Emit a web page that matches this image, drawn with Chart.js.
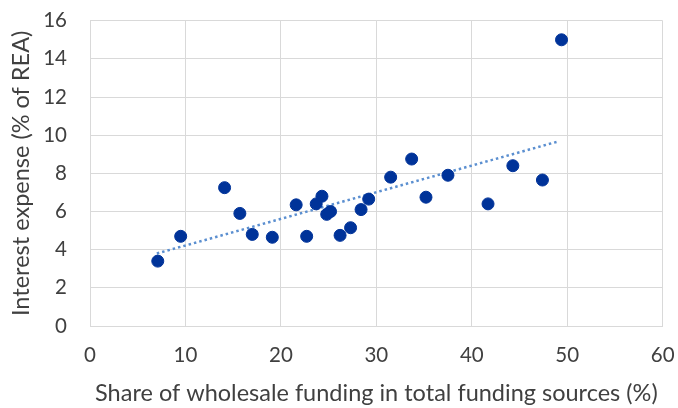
<!DOCTYPE html>
<html>
<head>
<meta charset="utf-8">
<script src="https://cdn.jsdelivr.net/npm/chart.js@4/dist/chart.umd.min.js"></script>
<style>
  html, body { margin: 0; padding: 0; background: #fff; }
  #wrap { width: 678px; height: 408px; }
</style>
</head>
<body>
<div id="wrap"><canvas id="c" width="678" height="408"></canvas></div>
<script>
// wholesale funding share (%) and interest expense (% of REA)
var fundingShare = [7.1, 9.5, 14.1, 15.7, 17.0, 19.1, 21.6, 22.7, 23.7, 24.3, 24.8, 25.2,
                    26.2, 27.3, 28.4, 29.2, 31.5, 33.7, 35.2, 37.5, 41.7, 44.3, 47.4, 49.4];
var interestExp  = [3.4, 4.7, 7.25, 5.9, 4.8, 4.65, 6.35, 4.7, 6.4, 6.8, 5.85, 6.0,
                    4.75, 5.15, 6.1, 6.65, 7.8, 8.75, 6.75, 7.9, 6.4, 8.4, 7.65, 15.0];
// linear trendline end points as drawn
var trendX = [7.0, 48.9];
var trendY = [3.8, 9.65];

var xTicks = [0, 10, 20, 30, 40, 50, 60];
var yTicks = [0, 2, 4, 6, 8, 10, 12, 14, 16];

var font = "Lato";
var textColor = "#404040";
var gridColor = "#d9d9d9";

var pts = fundingShare.map(function(x, i) { return {x: x, y: interestExp[i]}; });
var trend = trendX.map(function(x, i) { return {x: x, y: trendY[i]}; });

new Chart(document.getElementById("c"), {
	type: "scatter",
	data: {
		datasets: [
			{
				data: pts,
				backgroundColor: "#003399",
				borderColor: "#003399",
				pointRadius: 6,
				pointHoverRadius: 6,
				order: 1
			},
			{
				type: "line",
				data: trend,
				borderColor: "#5b8fd0",
				borderWidth: 2.5,
				borderDash: [2.5, 3],
				pointRadius: 0,
				fill: false,
				order: 2
			}
		]
	},
	options: {
		responsive: false,
		animation: false,
		layout: { padding: { left: 0, right: 15.3, top: 20.7, bottom: 0 } },
		plugins: { legend: { display: false }, tooltip: { enabled: false } },
		scales: {
			x: {
				type: "linear",
				min: 0, max: 60,
				afterBuildTicks: function(ax) { ax.ticks = xTicks.map(function(v) { return {value: v}; }); },
				afterFit: function(ax) {
					ax.height = 82;
					ax.paddingLeft = 0;
					ax.paddingRight = 0;
				},
				grid: { color: gridColor, lineWidth: 1, drawTicks: false },
				border: { color: gridColor },
				ticks: { padding: 17, color: textColor, font: { family: font, size: 20.5 } },
				title: {
					display: true,
					text: "Share of wholesale funding in total funding sources (%)",
					color: textColor,
					font: { family: font, size: 23.5 },
					padding: { top: 0, bottom: 0 }
				}
			},
			y: {
				type: "linear",
				min: 0, max: 16,
				afterBuildTicks: function(ax) { ax.ticks = yTicks.map(function(v) { return {value: v}; }); },
				afterFit: function(ax) {
					ax.width = 90;
					ax.paddingTop = 0;
					ax.paddingBottom = 0;
				},
				grid: { color: gridColor, lineWidth: 1, drawTicks: false },
				border: { color: gridColor },
				ticks: { padding: 23, color: textColor, font: { family: font, size: 20.5 } },
				title: {
					display: true,
					text: "Interest expense (% of REA)",
					color: textColor,
					font: { family: font, size: 23.5 },
					padding: { top: 7, bottom: 0 }
				}
			}
		}
	}
});
</script>
</body>
</html>
